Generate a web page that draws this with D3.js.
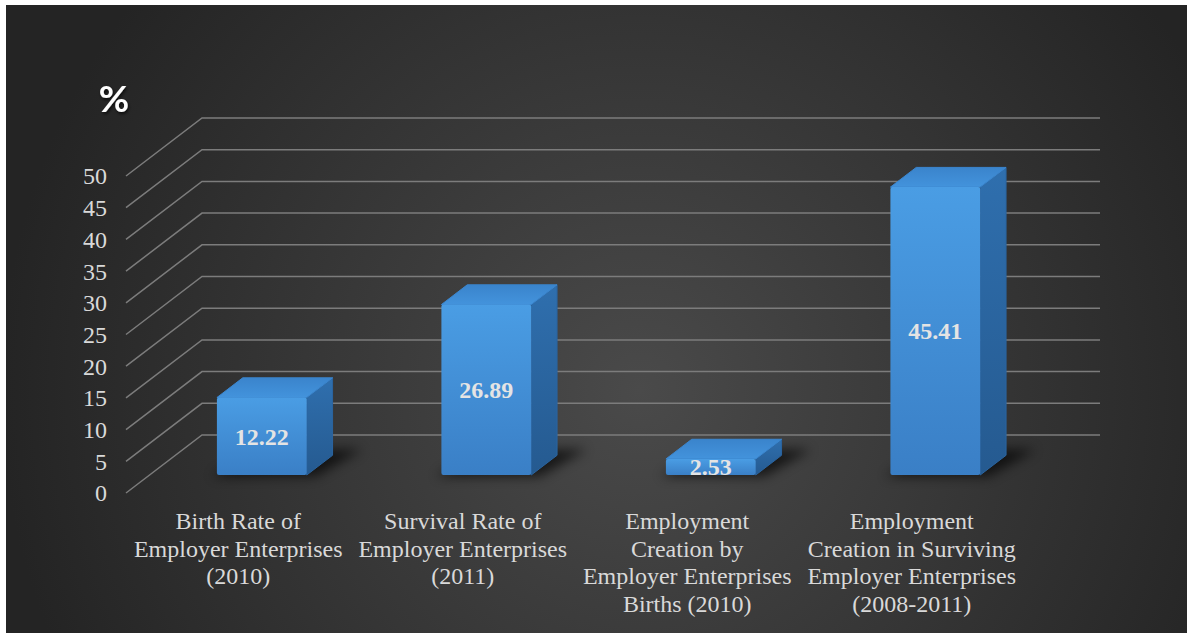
<!DOCTYPE html>
<html lang="en">
<head>
<meta charset="UTF-8"/>
<title>Employer Enterprises</title>
<script src="https://d3js.org/d3.v7.min.js"></script>
<style>
  body { margin: 0; background: #fff; overflow: hidden; }
  .serif { font-family: "Liberation Serif", "Times New Roman", Times, "DejaVu Serif", serif; }
  .unit { font-family: Lato, "Liberation Sans", Arial, sans-serif; font-weight: bold; }
</style>
</head>
<body>
<div id="chart"></div>
<script>
const categoryLines = [
  ["Birth Rate of", "Employer Enterprises", "(2010)"],
  ["Survival Rate of", "Employer Enterprises", "(2011)"],
  ["Employment", "Creation by", "Employer Enterprises", "Births (2010)"],
  ["Employment", "Creation in Surviving", "Employer Enterprises", "(2008-2011)"]
];
const values = [12.22, 26.89, 2.53, 45.41];
const yTicks = [0, 5, 10, 15, 20, 25, 30, 35, 40, 45, 50];
const unitLabel = "%";

const width = 1187, height = 633;
// how far the back wall is pushed from the front plane
const depth = {dx: 76, dy: -58};
// bars sit between these fractions of the floor depth
const barDepth = [0.31, 0.65];

const svg = d3.select("#chart")
  .append("svg")
    .attr("width", width)
    .attr("height", height);

const defs = svg.append("defs");

const bg = defs.append("radialGradient")
  .attr("id", "bg")
  .attr("gradientUnits", "userSpaceOnUse")
  .attr("cx", 640).attr("cy", 390).attr("r", 640);
bg.append("stop").attr("offset", 0).attr("stop-color", "#4a4a4a");
bg.append("stop").attr("offset", 1).attr("stop-color", "#242424");

const front = defs.append("linearGradient").attr("id", "front").attr("x1", 0).attr("y1", 0).attr("x2", 0).attr("y2", 1);
front.append("stop").attr("offset", 0).attr("stop-color", "#4a9de4");
front.append("stop").attr("offset", 1).attr("stop-color", "#3a7fc6");

const side = defs.append("linearGradient").attr("id", "side").attr("x1", 0).attr("y1", 0).attr("x2", 0).attr("y2", 1);
side.append("stop").attr("offset", 0).attr("stop-color", "#2f6fae");
side.append("stop").attr("offset", 1).attr("stop-color", "#255a90");

const topg = defs.append("linearGradient").attr("id", "top").attr("x1", 0).attr("y1", 1).attr("x2", 0).attr("y2", 0);
topg.append("stop").attr("offset", 0).attr("stop-color", "#4393dc");
topg.append("stop").attr("offset", 1).attr("stop-color", "#3a84cc");

defs.append("filter").attr("id", "blur")
  .attr("x", "-50%").attr("y", "-50%").attr("width", "200%").attr("height", "200%")
  .append("feGaussianBlur").attr("stdDeviation", 6);

defs.append("filter").attr("id", "shadow")
  .append("feDropShadow")
    .attr("dx", 1).attr("dy", 2).attr("stdDeviation", 1.5)
    .attr("flood-color", "#000").attr("flood-opacity", 0.7);

// background panel
svg.append("rect")
  .attr("x", 6).attr("y", 5)
  .attr("width", width - 6).attr("height", height - 5)
  .attr("fill", "url(#bg)");

const x = d3.scaleBand()
  .domain(d3.range(values.length))
  .range([126, 1024]);

const y = d3.scaleLinear()
  .domain([0, 50])
  .range([493, 176]);

// point on the floor/wall box: front x, value, depth fraction
function pt(px, v, d) {
  return [px + d * depth.dx, y(v) + d * depth.dy];
}

// gridlines: diagonal on the side wall then along the back wall
svg.append("g")
  .selectAll("path")
  .data(yTicks)
  .join("path")
    .attr("d", t => d3.line()([pt(x.range()[0], t, 0), pt(x.range()[0], t, 1), pt(x.range()[1], t, 1)]))
    .attr("fill", "none")
    .attr("stroke", "#7c7c7c")
    .attr("stroke-width", 1.5);

// y tick labels
svg.append("g")
  .selectAll("text")
  .data(yTicks)
  .join("text")
    .attr("class", "serif")
    .attr("x", 107)
    .attr("y", t => y(t))
    .attr("dy", "0.35em")
    .attr("text-anchor", "end")
    .attr("font-size", 24)
    .attr("fill", "#d9d9d9")
    .text(t => t);

svg.append("text")
  .attr("class", "unit")
  .attr("x", 114)
  .attr("y", 112)
  .attr("text-anchor", "middle")
  .attr("font-size", 37)
  .attr("fill", "#ffffff")
  .attr("filter", "url(#shadow)")
  .text(unitLabel);

const bw = x.bandwidth() * 0.4;
const bars = svg.append("g")
  .selectAll("g")
  .data(values)
  .join("g");

function box(d, i) {
  const x0 = x(i) + (x.bandwidth() - bw) / 2, x1 = x0 + bw;
  return {x0, x1, d0: barDepth[0], d1: barDepth[1], v: d};
}

// soft shadow on the floor
bars.append("polygon")
  .attr("points", (d, i) => {
    const b = box(d, i);
    return [pt(b.x0 - 4, 0, b.d0 - 0.02), pt(b.x1 + 10, 0, b.d0 - 0.02), pt(b.x1 + 22, 0, b.d1 + 0.1), pt(b.x0 + 10, 0, b.d1 + 0.1)].join(" ");
  })
  .attr("fill", "#000")
  .attr("opacity", 0.65)
  .attr("filter", "url(#blur)");

bars.append("polygon")
  .attr("points", (d, i) => {
    const b = box(d, i);
    return [pt(b.x1, d, b.d0), pt(b.x1, d, b.d1), pt(b.x1, 0, b.d1), pt(b.x1, 0, b.d0)].join(" ");
  })
  .attr("fill", "url(#side)")
  .attr("stroke", "#2a64a0")
  .attr("stroke-width", 1)
  .attr("stroke-linejoin", "round");

bars.append("polygon")
  .attr("points", (d, i) => {
    const b = box(d, i);
    return [pt(b.x0, d, b.d0), pt(b.x1, d, b.d0), pt(b.x1, d, b.d1), pt(b.x0, d, b.d1)].join(" ");
  })
  .attr("fill", "url(#top)")
  .attr("stroke", "#3b86cf")
  .attr("stroke-width", 1)
  .attr("stroke-linejoin", "round");

bars.append("rect")
  .attr("x", (d, i) => pt(box(d, i).x0, d, barDepth[0])[0])
  .attr("y", (d, i) => pt(0, d, barDepth[0])[1])
  .attr("width", bw)
  .attr("height", d => y(0) - y(d))
  .attr("rx", 2)
  .attr("fill", "url(#front)");

// value labels on the front face
bars.append("text")
  .attr("class", "serif")
  .attr("x", (d, i) => pt(x(i) + x.bandwidth() / 2, d, barDepth[0])[0])
  .attr("y", d => (y(d) + y(0)) / 2 + barDepth[0] * depth.dy)
  .attr("dy", "0.35em")
  .attr("text-anchor", "middle")
  .attr("font-weight", "bold")
  .attr("font-size", 24)
  .attr("fill", "#e4e4e4")
  .text(d => d.toFixed(2));

// category labels
svg.append("g")
  .selectAll("text")
  .data(categoryLines)
  .join("text")
    .attr("class", "serif")
    .attr("x", (d, i) => x(i) + x.bandwidth() / 2)
    .attr("y", 529)
    .attr("text-anchor", "middle")
    .attr("font-size", 24)
    .attr("fill", "#d9d9d9")
    .selectAll("tspan")
    .data(d => d)
    .join("tspan")
      .attr("x", function () { return d3.select(this.parentNode).attr("x"); })
      .attr("dy", (d, j) => j === 0 ? 0 : 27.5)
      .text(d => d);
</script>
</body>
</html>
